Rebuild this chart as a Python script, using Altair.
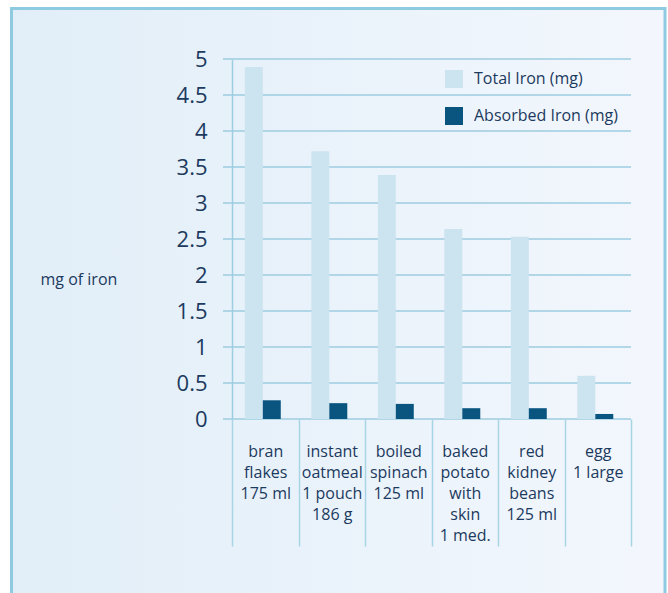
import altair as alt
import pandas as pd

categories = [
    "bran\nflakes\n175 ml",
    "instant\noatmeal\n1 pouch\n186 g",
    "boiled\nspinach\n125 ml",
    "baked\npotato\nwith\nskin\n1 med.",
    "red\nkidney\nbeans\n125 ml",
    "egg\n1 large",
]
total_iron = [4.89, 3.72, 3.39, 2.64, 2.53, 0.60]
absorbed_iron = [0.26, 0.22, 0.21, 0.15, 0.15, 0.07]
series_names = ["Total Iron (mg)", "Absorbed Iron (mg)"]
y_ticks = [0, 0.5, 1, 1.5, 2, 2.5, 3, 3.5, 4, 4.5, 5]

rows = []
for c, t, a in zip(categories, total_iron, absorbed_iron):
    rows.append({"food": c, "series": series_names[0], "value": t})
    rows.append({"food": c, "series": series_names[1], "value": a})
df = pd.DataFrame(rows)

TEXT = "#1c3a5e"
GRID = "#9dcde0"
FONT = "Open Sans"

W, H = 399, 360

gradient = alt.LinearGradient(
    gradient="linear",
    stops=[alt.GradientStop(color="#e1eef8", offset=0),
           alt.GradientStop(color="#f3f7fd", offset=1)],
    x1=0, x2=1, y1=0, y2=0,
)

panel = alt.Chart(pd.DataFrame({"p": [0]})).mark_rect(
    color=gradient, stroke="#8ecae0", strokeWidth=3
).encode(
    x=alt.value(-220.5), x2=alt.value(433), y=alt.value(-50.5), y2=alt.value(620)
)

yscale = alt.Scale(domain=[0, 5], nice=False)
yaxis = alt.Axis(
    values=y_ticks, format="~g", grid=False, ticks=False,
    domainColor=GRID, domainWidth=1.5,
    labelFont=FONT, labelFontSize=22, labelColor=TEXT,
    labelPadding=25,
    title="mg of iron", titleAngle=0, titleX=-192, titleY=220,
    titleAlign="left", titleBaseline="middle", titleFont=FONT,
    titleFontSize=16, titleFontWeight="normal", titleColor=TEXT,
    zindex=1)

grid = alt.Chart(pd.DataFrame({"t": y_ticks})).mark_rule(
    color=GRID, strokeWidth=1.5
).encode(
    y=alt.Y("t:Q", scale=yscale, axis=yaxis),
    x=alt.value(-9), x2=alt.value(W),
)

bars = alt.Chart(df).mark_bar().encode(
    x=alt.X("food:N", sort=categories,
            scale=alt.Scale(paddingInner=0, paddingOuter=0),
            axis=alt.Axis(
                title=None, domain=False, tickBand="extent", tickSize=127,
                tickColor="#a8d5e6", tickWidth=1.5,
                labelPadding=-103, labelBaseline="top", labelAngle=0,
                labelExpr="split(datum.label, '\\n')",
                labelLineHeight=21, labelFont=FONT, labelFontSize=16,
                labelColor=TEXT, zindex=1, labelLimit=0)),
    xOffset=alt.XOffset("series:N", sort=series_names,
                        scale=alt.Scale(paddingInner=0, paddingOuter=0.85, align=0.42)),
    y=alt.Y("value:Q", scale=yscale, axis=yaxis),
    color=alt.Color("series:N", sort=series_names,
                    scale=alt.Scale(domain=series_names, range=["#cce3f0", "#0a5580"]),
                    legend=alt.Legend(
                        title=None, orient="none", legendX=213, legendY=11,
                        symbolType="square", symbolSize=324, symbolStrokeWidth=0,
                        symbolOpacity=1, rowPadding=19, labelOffset=11,
                        labelFont=FONT, labelFontSize=16, labelColor=TEXT,
                        padding=0, zindex=1, labelLimit=0)),
)

chart = alt.layer(panel, grid, bars).properties(
    width=W, height=H,
    autosize=alt.AutoSizeParams(type="none"),
    padding={"left": 232, "top": 59, "right": 37, "bottom": 174},
    background="white",
).configure_view(stroke=None)

chart.save("out.html", embed_options={"renderer": "svg", "actions": False})
